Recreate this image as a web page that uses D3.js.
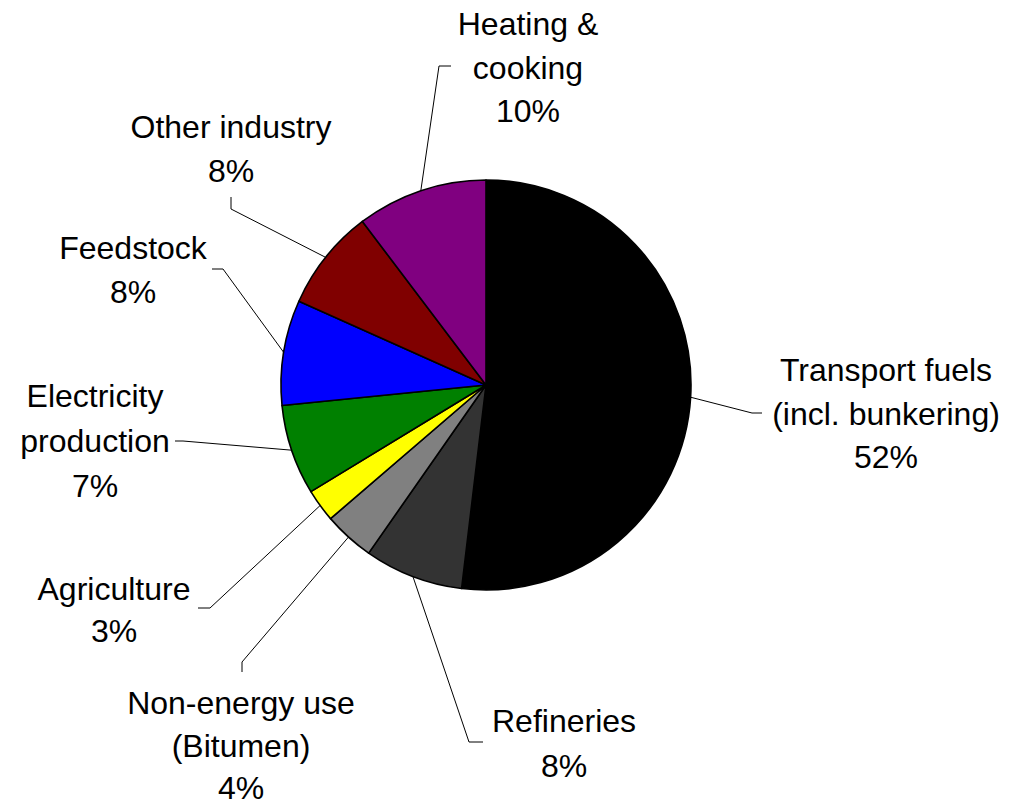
<!DOCTYPE html>
<html>
<head>
<meta charset="utf-8">
<script src="https://cdn.jsdelivr.net/npm/d3@7"></script>
<style>
  html, body { margin: 0; padding: 0; background: #fff; }
  svg text { font-family: "Liberation Sans", Arial, Helvetica, sans-serif; }
</style>
</head>
<body>
<div id="chart"></div>
<script>
// data, clockwise from 12 o'clock
var categories = ["Transport fuels\n(incl. bunkering)", "Refineries", "Non-energy use\n(Bitumen)",
  "Agriculture", "Electricity\nproduction", "Feedstock", "Other industry", "Heating &\ncooking"];
var shares = [51.9, 7.8, 4.0, 2.6, 7.1, 8.3, 8.0, 10.3];
var colours = ["#000000", "#333333", "#808080", "#ffff00", "#008000", "#0000ff", "#800000", "#800080"];

// label layout: text centre x, first baseline, line step, leader elbow and end
var labelLayout = [
  { x: 886, y: 381, step: 43.5, elbow: [752, 413], end: [762, 413] },
  { x: 564, y: 732, step: 45, elbow: [469, 742], end: [483, 742] },
  { x: 241, y: 714, step: 42.5, elbow: [242, 662], end: [242, 672] },
  { x: 114, y: 600, step: 42, elbow: [210, 608], end: [198, 608] },
  { x: 95, y: 407, step: 45, elbow: [183, 441], end: [175, 441] },
  { x: 133, y: 259, step: 44, elbow: [223, 269], end: [212, 269] },
  { x: 231, y: 138, step: 44, elbow: [231, 209], end: [231, 197] },
  { x: 528, y: 35, step: 43.5, elbow: [439, 66], end: [451, 66] }
];

var width = 1009;
var height = 808;
var radius = 205;
var cx = 486, cy = 385;

var svg = d3.select("#chart")
  .append("svg")
  .attr("width", width)
  .attr("height", height);

var pie = d3.pie()
  .value(function (d) { return d; })
  .sort(null);

var arcs = pie(shares);

var arc = d3.arc()
  .innerRadius(0)
  .outerRadius(radius);

var g = svg.append("g")
  .attr("transform", "translate(" + cx + "," + cy + ")");

g.selectAll("path")
  .data(arcs)
  .enter()
  .append("path")
  .attr("d", arc)
  .attr("fill", function (d, i) { return colours[i]; })
  .attr("stroke", "#000")
  .attr("stroke-width", 1.6)
  .attr("stroke-linejoin", "round");

// leader lines start on the rim at the slice's middle angle
svg.selectAll(".leader")
  .data(arcs)
  .enter()
  .append("polyline")
  .attr("class", "leader")
  .attr("fill", "none")
  .attr("stroke", "#000")
  .attr("stroke-width", 1)
  .attr("points", function (d, i) {
    var a = (d.startAngle + d.endAngle) / 2;
    var sx = cx + radius * Math.sin(a);
    var sy = cy - radius * Math.cos(a);
    var L = labelLayout[i];
    return [[sx, sy], L.elbow, L.end].map(function (p) { return p.join(","); }).join(" ");
  });

var labels = svg.selectAll(".label")
  .data(arcs)
  .enter()
  .append("text")
  .attr("class", "label")
  .attr("text-anchor", "middle")
  .attr("font-size", "32px")
  .attr("fill", "#000");

labels.each(function (d, i) {
  var L = labelLayout[i];
  var lines = categories[i].split("\n").concat([Math.round(d.data) + "%"]);
  d3.select(this).selectAll("tspan")
    .data(lines)
    .enter()
    .append("tspan")
    .attr("x", L.x)
    .attr("y", function (t, j) { return L.y + j * L.step; })
    .text(function (t) { return t; });
});
</script>
</body>
</html>
